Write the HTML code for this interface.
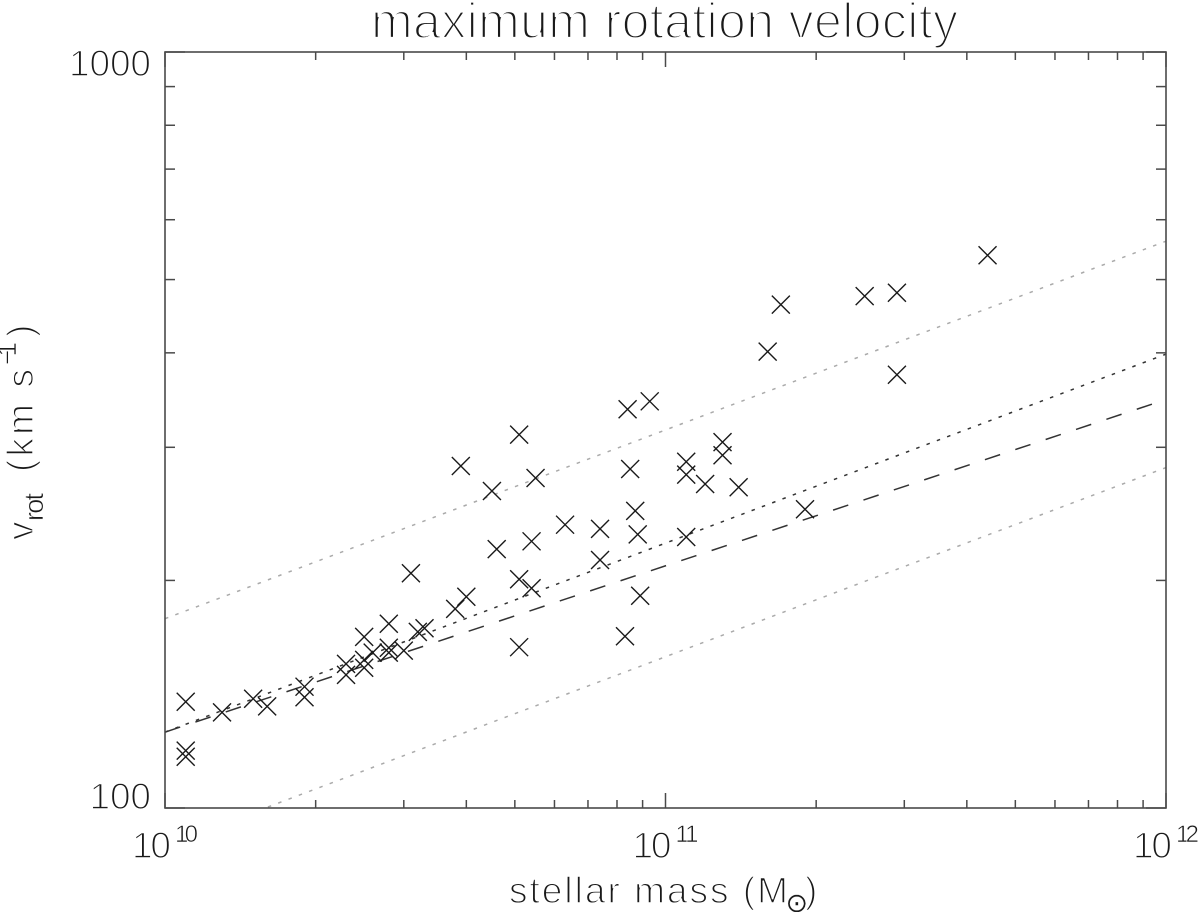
<!DOCTYPE html>
<html lang="en">
<head>
<meta charset="utf-8">
<title>maximum rotation velocity</title>
<style>
html,body{margin:0;padding:0;background:#fff;width:1200px;height:912px;overflow:hidden}
svg{display:block}
text{font-family:"Liberation Sans",sans-serif;fill:#1a1a1a;stroke:#fff;stroke-width:1.4px}
text.t-big{stroke-width:2.2px}
text.t-small{stroke-width:.6px}
text.t-symbol{font-family:"DejaVu Sans",sans-serif;stroke-width:.2px}
</style>
</head>
<body>
<svg id="chart" xmlns="http://www.w3.org/2000/svg" width="1200" height="912" viewBox="0 0 1200 912">
  <defs><clipPath id="plot-clip"><rect x="165" y="52" width="1001" height="756"/></clipPath></defs>
  <text class="t-big" x="371" y="38" font-size="50" textLength="587" lengthAdjust="spacing">maximum rotation velocity</text>
  <text x="509" y="903" font-size="37" textLength="279" lengthAdjust="spacing">stellar mass (M</text>
  <text class="t-symbol" x="785.5" y="912" font-size="27">⊙</text>
  <text x="805" y="903" font-size="37">)</text>
  <g>
    <text transform="translate(33,540) rotate(-90)" font-size="37">v</text>
    <text class="t-small" transform="translate(43,521) rotate(-90)" font-size="27" textLength="28" lengthAdjust="spacing">rot</text>
    <text transform="translate(33,472) rotate(-90)" font-size="37" textLength="103" lengthAdjust="spacing">(km s</text>
    <text class="t-small" transform="translate(16,365) rotate(-90)" font-size="26" textLength="23" lengthAdjust="spacing">−1</text>
    <text transform="translate(33,337) rotate(-90)" font-size="37">)</text>
  </g>
  <g id="lines" clip-path="url(#plot-clip)" fill="none"></g>
  <g id="marks" fill="none" stroke="#1a1a1a" stroke-width="1.4"></g>
  <g id="axes" fill="none" stroke="#4a4a4a"></g>
  <g id="labels"></g>
</svg>
<script>
// stellar mass (solar masses) and maximum rotation velocity (km/s)
const massValues = [1.1e10,1.1e10,1.1e10,1.3e10,1.5e10,1.6e10,1.9e10,1.9e10,2.3e10,2.3e10,2.5e10,2.5e10,2.5e10,2.6e10,2.8e10,2.8e10,2.8e10,3.0e10,3.2e10,3.3e10,3.1e10,3.8e10,4.0e10,3.9e10,5.1e10,4.5e10,5.5e10,6.3e10,7.4e10,4.6e10,5.4e10,5.1e10,5.4e10,7.4e10,8.7e10,8.8e10,8.5e10,8.4e10,9.3e10,8.9e10,8.3e10,5.1e10,1.1e11,1.1e11,1.1e11,1.2e11,1.3e11,1.3e11,1.4e11,1.7e11,1.6e11,2.5e11,2.9e11,2.9e11,4.4e11,1.9e11];
const velocityValues = [138.2,119.1,116.9,133.8,139.5,136.3,144.7,140.1,155.1,150.0,168.4,157.0,153.3,160.5,175.3,162.9,160.5,161.5,171.0,172.9,204.4,183.4,190.3,283.4,311.8,262.6,273.2,237.0,234.0,220.0,225.3,200.7,195.3,212.8,247.2,230.1,280.8,336.8,345.1,190.9,168.7,163.2,228.3,287.1,276.0,268.3,304.8,292.8,265.6,463.2,401.5,475.5,480.4,374.2,538.4,248.4];

// model relations: velocity at the two ends of the mass range
const lineMassEnds = [1e10, 1e12];
const lineCentralDotted = [126, 398.4];
const lineDashed = [126, 347];
const lineUpperScatter = [178, 562];
const lineLowerScatter = [89.1, 282];

// axis ticks
const xMajorTicks = [1e10, 1e11, 1e12];
const xMajorExponents = ["10", "11", "12"];
const xMinorMultipliers = [2, 3, 4, 5, 6, 7, 8, 9];
const yMajorTicks = [100, 1000];
const yMinorTicks = [200, 300, 400, 500, 600, 700, 800, 900];

const svgNS = "http://www.w3.org/2000/svg";
const xDomain = [1e10, 1e12], yDomain = [100, 1000];
const plot = {left: 165, right: 1166, top: 52, bottom: 808};
function xScale(m) {
  return plot.left + (Math.log10(m) - Math.log10(xDomain[0])) / (Math.log10(xDomain[1]) - Math.log10(xDomain[0])) * (plot.right - plot.left);
}
function yScale(v) {
  return plot.bottom - (Math.log10(v) - Math.log10(yDomain[0])) / (Math.log10(yDomain[1]) - Math.log10(yDomain[0])) * (plot.bottom - plot.top);
}
function mk(tag, parent, attrs) {
  const el = document.createElementNS(svgNS, tag);
  for (const k in attrs) el.setAttribute(k, attrs[k]);
  parent.appendChild(el);
  return el;
}

// model lines
const linesG = document.getElementById("lines");
function drawLine(vals, name, color, dash, width) {
  const el = mk("line", linesG, {x1: xScale(lineMassEnds[0]), y1: yScale(vals[0]), x2: xScale(lineMassEnds[1]), y2: yScale(vals[1]), stroke: color, "stroke-dasharray": dash, "stroke-width": width});
  
  
}
drawLine(lineUpperScatter, "upper-scatter-line", "#aaa", "3.5 7.5", 1.5);
drawLine(lineLowerScatter, "lower-scatter-line", "#aaa", "3.5 7.5", 1.5);
drawLine(lineCentralDotted, "central-dotted-line", "#333", "3.5 7.5", 1.5);
drawLine(lineDashed, "dashed-fit-line", "#333", "16 16", 1.5);

// crosses
const marksG = document.getElementById("marks");
const R = 9;
massValues.forEach(function (m, i) {
  const x = xScale(m), y = yScale(velocityValues[i]);
  const el = mk("path", marksG, {d: "M" + (x - R) + " " + (y - R) + "L" + (x + R) + " " + (y + R) + "M" + (x - R) + " " + (y + R) + "L" + (x + R) + " " + (y - R)});
  
  
});

// axes frame and ticks
const axesG = document.getElementById("axes");
const frame = mk("rect", axesG, {x: plot.left, y: plot.top, width: plot.right - plot.left, height: plot.bottom - plot.top, "stroke-width": 1.6});


function tick(x1, y1, x2, y2, name) {
  const el = mk("line", axesG, {x1: x1, y1: y1, x2: x2, y2: y2, "stroke-width": 1.5});
  
  
}
xMajorTicks.forEach(function (m) {
  const x = xScale(m);
  tick(x, plot.bottom, x, plot.bottom - 15, "x-major-tick");
  tick(x, plot.top, x, plot.top + 15, "x-major-tick-top");
  if (m < xDomain[1]) xMinorMultipliers.forEach(function (k) {
    const xm = xScale(m * k);
    tick(xm, plot.bottom, xm, plot.bottom - 8, "x-minor-tick");
    tick(xm, plot.top, xm, plot.top + 8, "x-minor-tick-top");
  });
});
yMajorTicks.forEach(function (v) {
  const y = yScale(v);
  tick(plot.left, y, plot.left + 20, y, "y-major-tick");
  tick(plot.right, y, plot.right - 20, y, "y-major-tick-right");
});
yMinorTicks.forEach(function (v) {
  const y = yScale(v);
  tick(plot.left, y, plot.left + 10, y, "y-minor-tick");
  tick(plot.right, y, plot.right - 10, y, "y-minor-tick-right");
});

// tick labels
const labelsG = document.getElementById("labels");
xMajorTicks.forEach(function (m, i) {
  const x = xScale(m);
  const base = mk("text", labelsG, {x: x - 33, y: 858, "font-size": 37, textLength: 39, lengthAdjust: "spacing"});
  base.textContent = "10";
  
  
  const sup = mk("text", labelsG, {class: "t-small", x: x + 10, y: 842, "font-size": 24, textLength: 23, lengthAdjust: "spacing"});
  sup.textContent = xMajorExponents[i];
  
  
});
yMajorTicks.forEach(function (v) {
  const s = String(v);
  const lab = mk("text", labelsG, {x: 151, y: yScale(v) + (v === 1000 ? 24 : 1), "font-size": 37, "text-anchor": "end", textLength: s.length * 20.5, lengthAdjust: "spacing"});
  lab.textContent = s;
  
  
});
</script>
</body>
</html>
